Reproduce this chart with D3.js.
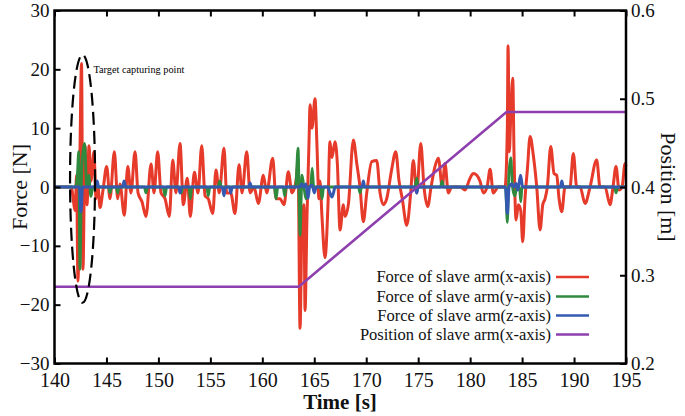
<!DOCTYPE html>
<html><head><meta charset="utf-8">
<script src="https://cdn.jsdelivr.net/npm/d3@7"></script>
<style>
html,body{margin:0;padding:0;background:#fff;}
svg{display:block;}
svg text{font-family:"Liberation Serif","Times New Roman",serif !important;}
</style></head>
<body><svg id="c" width="685" height="416"></svg>
<script>
// ---- data ----
const timeTicks = [140,145,150,155,160,165,170,175,180,185,190,195];
const forceTicks = [-30,-20,-10,0,10,20,30];
const posTicks = [0.2,0.3,0.4,0.5,0.6];
const seriesNames = ["Force of slave arm(x-axis)","Force of slave arm(y-axis)","Force of slave arm(z-axis)","Position of slave arm(x-axis)"];
const seriesColors = ["#e63a2a","#2f8a3e","#3558b0","#8e3fae"];

// Force x-axis [time s, force N]
const forceX = [
[140.0,0],[141.6,0],[142.0,-4],[142.12,2],[142.26,-16],[142.45,6],[142.60,21],[142.74,-14],[142.94,7],[143.13,-3],[143.32,7],[143.51,1],[143.80,6],[143.99,-2],[144.19,0],[144.38,-3.5],[144.67,-0.5],[145.02,3.5],[145.34,-2],[145.76,6],[146.08,-2],[146.30,0.5],[146.72,-4.8],[147.05,3.5],[147.36,-1],[147.75,6],[148.04,-1],[148.42,-2.5],[148.81,-5],[149.29,3.9],[149.58,-1],[149.93,6],[150.25,-1],[150.64,-2],[151.05,-5],[151.38,4.6],[151.69,-1],[152.08,7.4],[152.40,-3],[152.78,1.5],[153.07,-5],[153.46,2.5],[153.81,-1],[154.17,7],[154.49,-1.5],[154.80,-2],[155.23,-4.5],[155.54,2.9],[155.86,-1],[156.31,6.6],[156.57,-1],[156.96,-1],[157.37,-4.5],[157.76,3.8],[158.05,-1],[158.50,6],[158.82,-1],[159.20,0],[159.62,-2.8],[160.10,2],[160.42,-1],[161.00,4.9],[161.32,-2],[161.70,-2],[162.09,-3],[162.50,2.6],[162.86,-1],[163.24,1],[163.44,4],[163.63,-24],[163.82,-6],[164.01,-3],[164.11,-21],[164.30,-5],[164.50,8],[164.59,14],[164.78,10],[165.07,15],[165.26,7],[165.45,-2],[165.55,1],[165.74,-5],[166.03,-12],[166.32,-3],[166.51,7.7],[166.70,5],[167.00,7.7],[167.22,4],[167.48,-7.3],[167.80,-3],[167.96,-5],[168.28,-3],[168.76,8],[169.09,4],[169.40,0],[169.72,-5.9],[170.05,-1],[170.53,4.3],[171.01,4.5],[171.33,-1],[171.65,-3],[171.97,-2],[172.45,3],[172.84,6],[173.16,1],[173.47,-2],[173.90,-6.5],[174.28,-1],[174.53,4.5],[174.86,-1],[175.25,7.4],[175.56,0],[175.92,-3.3],[176.24,0],[176.62,3.5],[176.94,4.9],[177.32,0],[177.58,4],[177.90,-1],[178.23,0],[179.03,0],[179.51,-0.5],[179.99,1.5],[180.31,2.3],[180.64,2],[180.95,1],[181.27,-1],[181.63,0],[181.92,3],[182.23,-1],[182.71,0],[183.36,0],[183.58,10],[183.65,24],[183.77,6],[183.91,12],[184.10,18.5],[184.23,5],[184.42,-5.6],[184.64,-3],[184.87,-4],[185.06,-9.3],[185.28,-2],[185.51,3],[185.77,8.6],[186.08,5.4],[186.41,0],[186.73,-7.3],[186.99,-3],[187.21,-2],[187.43,0],[187.76,6.9],[188.07,2.3],[188.33,2],[188.56,-2],[188.82,-4.2],[189.13,0],[189.61,0],[189.93,5.7],[190.26,0],[190.58,0],[191.06,-2.8],[191.54,0],[192.18,4.6],[192.50,0],[192.98,0],[193.46,-3],[193.75,0],[194.04,3.5],[194.33,-0.5],[194.62,0],[194.91,4],[195.0,3.5]
];
// Force y-axis
const forceY = [
[140.0,0],[142.0,0],[142.2,2],[142.33,6],[142.45,-14],[142.62,3],[142.9,7.4],[143.1,0],[143.3,2],[143.5,-1.6],[143.7,0],
[145.2,0],[145.34,-1],[145.5,0],[145.95,0],[146.08,-1],[146.2,0],[148.65,0],[148.8,-1],[148.95,0],[150.45,0],[150.64,-1.5],[150.8,0],
[152.05,0],[152.2,-1],[152.35,0],[152.95,0],[153.07,-2],[153.2,0],[154.65,0],[154.8,-1.5],[154.95,0],[155.75,0],[155.9,1],[156.05,0],
[161.15,0],[161.32,-2],[161.5,0],[162.0,0],[162.15,-1.5],[162.3,0],[163.2,0],[163.44,6.6],[163.63,-8.2],[163.82,2],[164.0,0],
[164.2,-2],[164.4,0],[164.65,0],[164.8,3.2],[164.95,0],[165.6,0],[165.75,-2],[165.9,0],[169.25,0],[169.4,-1],[169.55,0],
[174.7,0],[174.86,1.5],[175.0,0],[177.15,0],[177.3,1],[177.45,0],[183.4,0],[183.58,-6],[183.72,2],[183.91,5],[184.08,0],
[184.3,-1.5],[184.5,0],[184.75,0],[184.87,-2.5],[185.0,0],[193.9,0],[194.04,-1],[194.2,0],[195.0,0]
];
// Force z-axis
const forceZ = [
[140.0,0],[142.4,0],[142.55,-4.2],[142.7,0],[143.95,0],[144.1,1],[144.25,0],[146.55,0],[146.7,1],[146.85,0],[151.95,0],[152.08,-1],[152.2,0],
[156.15,0],[156.31,-1.5],[156.45,0],[156.85,0],[156.96,-1],[157.1,0],[158.7,0],[158.82,0.7],[158.95,0],[163.6,0],[163.8,0.5],[164.0,0],
[164.2,0.5],[164.4,-1.9],[164.55,0],[164.8,0.3],[165.0,-1],[165.2,0],[166.3,0],[166.5,-1],[166.7,-1.7],[166.85,-1],[167.0,0],
[169.6,0],[169.72,1],[169.85,0],[174.7,0],[174.86,-1],[175.0,0],[183.4,0],[183.58,-4.5],[183.75,0],[184.0,0.5],[184.2,0],[184.42,0.6],
[184.6,-0.5],[184.85,2],[185.05,0],[188.7,0],[188.82,1],[188.95,0],[195.0,0]
];
// Position x-axis [time s, position m]
const positionX = [[140,0.287],[163.5,0.287],[183.5,0.485],[195,0.485]];

// ---- chart ----
const svg = d3.select("#c");
const x = d3.scaleLinear().domain([140,195]).range([54.5,626]);
const y = d3.scaleLinear().domain([-30,30]).range([363.5,10.5]);
const y2 = d3.scaleLinear().domain([0.2,0.6]).range([363.5,10.5]);

const line = (ys) => d3.line().x(d=>x(d[0])).y(d=>ys(d[1])).curve(d3.curveMonotoneX);

svg.append("path").attr("d", line(y)(forceX)).attr("fill","none").attr("stroke",seriesColors[0]).attr("stroke-width",3).attr("stroke-linejoin","round");
svg.append("path").attr("d", line(y)(forceY)).attr("fill","none").attr("stroke",seriesColors[1]).attr("stroke-width",2.8).attr("stroke-linejoin","round");
svg.append("path").attr("d", line(y)(forceZ)).attr("fill","none").attr("stroke",seriesColors[2]).attr("stroke-width",3).attr("stroke-linejoin","round");
svg.append("path").attr("d", d3.line().x(d=>x(d[0])).y(d=>y2(d[1]))(positionX)).attr("fill","none").attr("stroke",seriesColors[3]).attr("stroke-width",2.6);

// annotation
svg.append("ellipse").attr("cx",x(142.7)).attr("cy",y(1.4)).attr("rx",12.5).attr("ry",124)
  .attr("fill","none").attr("stroke","#000").attr("stroke-width",2.2).attr("stroke-dasharray","13,6");
svg.append("text").attr("x",x(143.75)).attr("y",y(19.4)).attr("font-size",10.5).attr("textLength",91).attr("lengthAdjust","spacingAndGlyphs")
  .text("Target capturing point");

// axes
const fontTick = 19;
const gB = svg.append("g").attr("transform","translate(0,363.5)")
  .call(d3.axisBottom(x).tickValues(timeTicks).tickSize(-6).tickSizeOuter(0).tickPadding(6).tickFormat(d3.format("d")));
gB.selectAll("text").attr("font-size",20).attr("fill","#111").attr("dy","0.85em");
const gT = svg.append("g").attr("transform","translate(0,10.5)")
  .call(d3.axisTop(x).tickValues(timeTicks).tickSize(-6).tickSizeOuter(0).tickFormat(""));
const gL = svg.append("g").attr("transform","translate(54.5,0)")
  .call(d3.axisLeft(y).tickValues(forceTicks).tickSize(-6).tickSizeOuter(0).tickPadding(5).tickFormat(d3.format("d")));
gL.selectAll("text").attr("font-size",fontTick).attr("fill","#111");
const gR = svg.append("g").attr("transform","translate(626,0)")
  .call(d3.axisRight(y2).tickValues(posTicks).tickSize(-6).tickSizeOuter(0).tickPadding(5).tickFormat(d3.format(".1f")));
gR.selectAll("text").attr("font-size",fontTick).attr("fill","#111");
[gB,gT,gL,gR].forEach(g=>{g.select(".domain").remove(); g.selectAll("line").attr("stroke","#000").attr("stroke-width",2);});

svg.append("rect").attr("x",54.5).attr("y",10.5).attr("width",626-54.5).attr("height",353)
  .attr("fill","none").attr("stroke","#000").attr("stroke-width",2.5);

// axis titles
svg.append("text").attr("x",340).attr("y",409).attr("text-anchor","middle").attr("font-size",21).attr("font-weight","bold").attr("fill","#111").text("Time [s]");
svg.append("text").attr("transform","translate(19,187) rotate(-90)").attr("text-anchor","middle").attr("dy","0.35em").attr("font-size",22).attr("fill","#111").text("Force [N]");
svg.append("text").attr("transform","translate(669,187) rotate(90)").attr("text-anchor","middle").attr("dy","0.35em").attr("font-size",22).attr("fill","#111").text("Position [m]");

// legend
const legY = [277,296.5,315.5,334.5];
const leg = svg.append("g");
seriesNames.forEach((n,i)=>{
  leg.append("text").attr("x",551).attr("y",legY[i]).attr("dy","0.33em").attr("text-anchor","end").attr("font-size",16.5).attr("fill","#111").text(n);
  leg.append("line").attr("x1",556).attr("x2",589).attr("y1",legY[i]).attr("y2",legY[i]).attr("stroke",seriesColors[i]).attr("stroke-width",2.6);
});
</script></body></html>
